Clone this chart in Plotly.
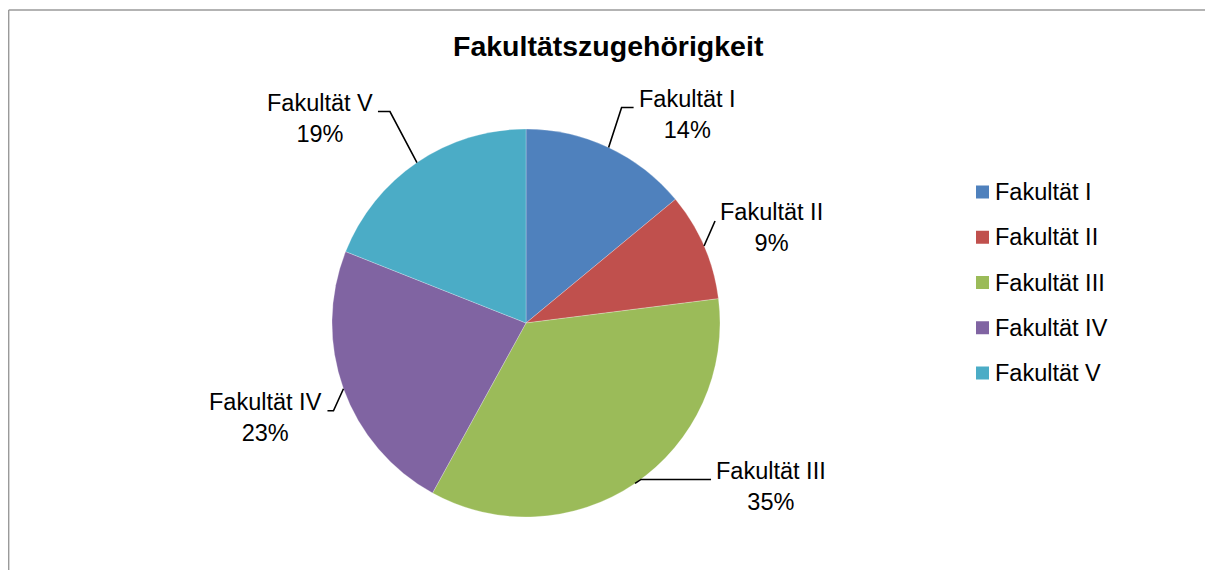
import numpy as np
import plotly.graph_objects as go

# ---- data ----
categories = ["Fakultät I", "Fakultät II", "Fakultät III", "Fakultät IV", "Fakultät V"]
values = [14, 9, 35, 23, 19]
title_text = "Fakultätszugehörigkeit"

# ---- styles ----
colors = ["#4F81BD", "#C0504D", "#9BBB59", "#8064A2", "#4BACC6"]
# leader-line geometry per label: elbow offset from slice edge (px), horizontal run (px)
leader_dx = [13, 11, 6, -10, -27]
leader_dy = [-40, -25, -4, 22, -51]
leader_run = [12, 0, 70, 6, 12]

OFF = 8                      # page body margin of the generated html
W, H = 1213 - OFF, 570 - OFF  # figure size
CX, CY, R = 526, 323, 194     # pie centre / radius in page pixels
FONT = "Liberation Sans, Arial, sans-serif"


def px(x):
    return (x - OFF) / W


def py(y):
    return 1 - (y - OFF) / H


total = sum(values)
cum = np.cumsum(values)
mid_frac = (cum - np.array(values) / 2) / total
mid_ang = np.deg2rad(mid_frac * 360)
pcts = [int(round(v / total * 100)) for v in values]

fig = go.Figure()
fig.add_trace(go.Pie(
    labels=categories,
    values=values,
    sort=False,
    direction="clockwise",
    rotation=0,
    marker=dict(colors=colors, line=dict(width=0.5, color="rgba(255,255,255,0.5)")),
    textinfo="none",
    hoverinfo="label+percent",
    showlegend=False,
    domain=dict(x=[px(CX - R), px(CX + R)], y=[py(CY + R), py(CY - R)]),
))

shapes = []
annotations = []

# frame lines (top and left)
shapes.append(dict(type="line", xref="paper", yref="paper", x0=0.7 / W, y0=py(10), x1=1, y1=py(10),
                   line=dict(color="#9a9a9a", width=1.4)))
shapes.append(dict(type="line", xref="paper", yref="paper", x0=0.7 / W, y0=py(10), x1=0.7 / W, y1=0,
                   line=dict(color="#9a9a9a", width=1.4)))

# data labels with leader lines
for i, (name, p) in enumerate(zip(categories, pcts)):
    a = mid_ang[i]
    ex, ey = CX + R * np.sin(a), CY - R * np.cos(a)
    bx, by = ex + leader_dx[i], ey + leader_dy[i]
    side = 1 if np.sin(a) >= 0 else -1
    tx, ty = bx + side * leader_run[i], by
    path = f"M {px(ex)},{py(ey)} L {px(bx)},{py(by)} L {px(tx)},{py(ty)}"
    shapes.append(dict(type="path", xref="paper", yref="paper", path=path,
                       line=dict(color="#000000", width=1.6)))
    annotations.append(dict(
        x=px(tx + side * 3), y=py(ty + 7), xref="paper", yref="paper",
        xanchor="left" if side > 0 else "right", yanchor="middle",
        text=f"{name}<br>{p}%", align="center", showarrow=False,
        font=dict(family=FONT, size=23.5, color="#000000"),
    ))

# legend (custom, Excel style spacing)
LX, LY0, LSTEP, SQ = 982.5, 192, 45.25, 13
for i, (name, c) in enumerate(zip(categories, colors)):
    yy = LY0 + i * LSTEP
    shapes.append(dict(type="rect", xref="paper", yref="paper",
                       x0=px(LX - SQ / 2), x1=px(LX + SQ / 2), y0=py(yy + SQ / 2), y1=py(yy - SQ / 2),
                       fillcolor=c, line=dict(width=0)))
    annotations.append(dict(
        x=px(LX + 10), y=py(yy), xref="paper", yref="paper",
        xanchor="left", yanchor="middle", text=name, showarrow=False,
        font=dict(family=FONT, size=23.5, color="#000000"),
    ))

# title
annotations.append(dict(
    x=px(608), y=py(46), xref="paper", yref="paper", xanchor="center", yanchor="middle",
    text=title_text, showarrow=False,
    font=dict(family=FONT, size=28.5, color="#000000", weight="bold"),
))

fig.update_layout(
    width=W, height=H,
    margin=dict(l=0, r=0, t=0, b=0),
    paper_bgcolor="white", plot_bgcolor="white",
    shapes=shapes, annotations=annotations,
    showlegend=False,
)

fig.write_html("out.html")
